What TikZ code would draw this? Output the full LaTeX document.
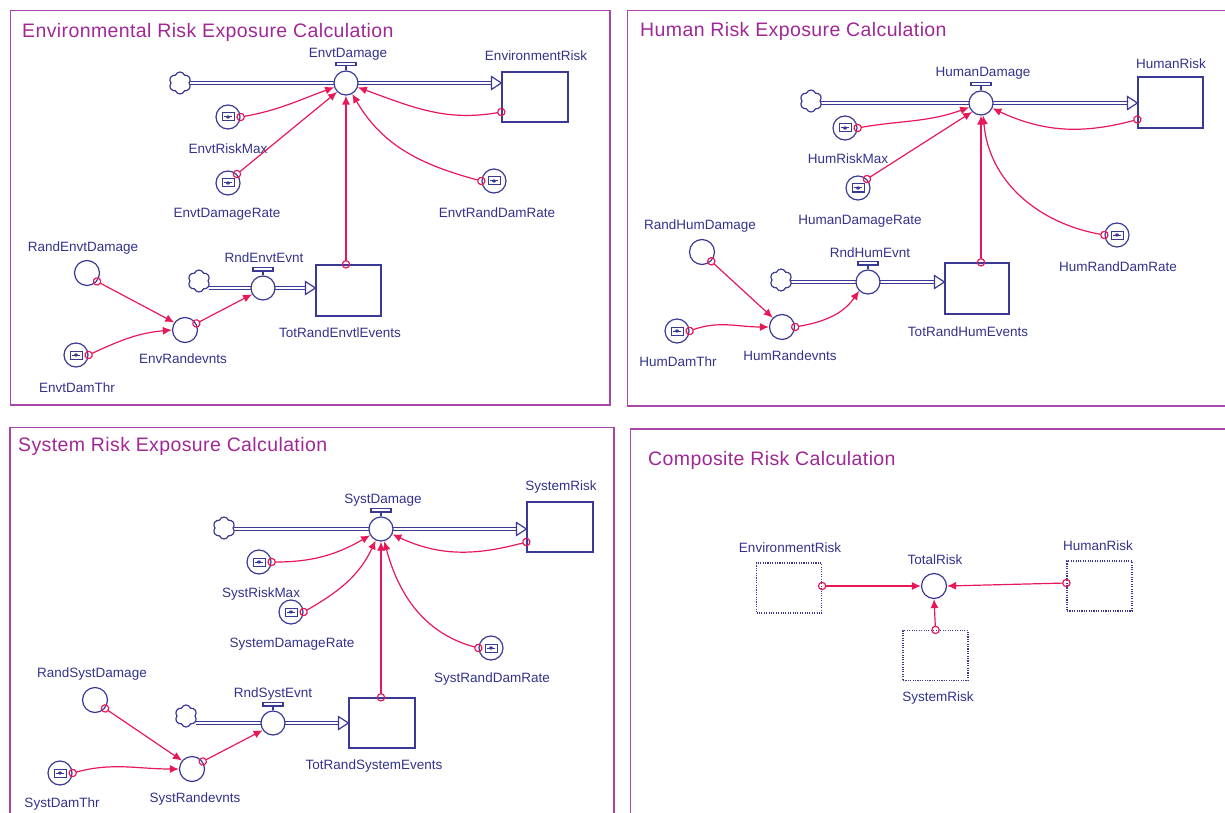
\documentclass[tikz,border=0pt]{standalone}
\usepackage{fontspec}
\setmainfont{Liberation Sans}
\newfontfamily\titlefont[LetterSpace=2]{Liberation Sans}
\usetikzlibrary{arrows.meta,shapes.symbols,backgrounds,calc}
\definecolor{navy}{RGB}{58,58,150}
\definecolor{txtc}{RGB}{50,50,140}
\definecolor{pinkc}{RGB}{232,24,88}
\definecolor{panelc}{RGB}{170,70,170}
\definecolor{titlec}{RGB}{160,40,150}
\tikzset{
  shp/.style={draw=navy, line width=1.2pt},
  panel/.style={draw=panelc, line width=1.4pt},
  ttl/.style={text=titlec, font=\titlefont\fontsize{19.5}{22}\selectfont, anchor=base west, inner sep=0},
  lbl/.style={text=txtc, font=\fontsize{13.5}{15}\selectfont, inner sep=0},
  aux/.style={circle, shp, fill=white, minimum size=25pt, inner sep=0},
  valvec/.style={circle, shp, fill=white, minimum size=24pt, inner sep=0},
  cvt/.style={circle, shp, fill=white, minimum size=24pt, inner sep=0},
  stock/.style={rectangle, shp, fill=white, minimum width=66pt, minimum height=50pt, inner sep=0},
  dbox/.style={rectangle, draw=navy, line width=1.1pt, dash pattern=on 1.1pt off 1.3pt, minimum width=65pt, minimum height=50pt, inner sep=0},
  cloudn/.style={cloud, cloud puffs=6, cloud puff arc=140, aspect=1, shp, fill=white, minimum width=22pt, minimum height=22pt, inner sep=0},
  pipe/.style={draw=navy, line width=1.1pt, double=white, double distance=2.4pt},
  conn/.style={draw=pinkc, line width=1.2pt, arrows={Circle[open,length=8.5pt,width=8.5pt,line width=1.2pt]-Latex[length=9pt,width=8pt]}, shorten <=-4.2pt},
}
\newcommand\mkvalve[3]{%
  \node[valvec] (#1) at (#2,-#3) {};
  \draw[shp] (#1.north) -- ++(0,4.5pt);
  \draw[shp,fill=white] ([xshift=-10pt,yshift=4.5pt]#1.north) rectangle ([xshift=10pt,yshift=8pt]#1.north);
}
\newcommand\mkconv[3]{%
  \node[cvt] (#1) at (#2,-#3) {};
  \draw[shp,line width=1pt] ([shift={(-6pt,-4pt)}]#1.center) rectangle ([shift={(6pt,4pt)}]#1.center);
  \draw[shp,line width=1pt] ([xshift=-4pt]#1.center) -- ([xshift=4pt]#1.center);
  \fill[navy] (#1.center) ellipse (2pt and 1.6pt);
}
\newcommand\mkflow[3]{%
  \coordinate (ftip) at (#3.west |- #2);
  \coordinate (fbeg) at (#1.east |- #2);
  \begin{pgfonlayer}{background}
    \draw[pipe] (fbeg) -- ([xshift=-9pt]ftip);
  \end{pgfonlayer}
  \draw[shp,fill=white] ([shift={(-10pt,6.5pt)}]ftip) -- (ftip) -- ([shift={(-10pt,-6.5pt)}]ftip) -- cycle;
}
\begin{document}
\begin{tikzpicture}[x=1pt,y=1pt]
\path[use as bounding box] (0,0) rectangle (1225,-813);
\clip (0,0) rectangle (1225,-813);
% panels
\draw[panel] (10.5,-10.5) rectangle (610,-405);
\draw[panel] (627.5,-10.5) rectangle (1232,-406);
\draw[panel] (10,-427.5) rectangle (614,-820);
\draw[panel] (630.5,-429) rectangle (1232,-820);
\node[ttl] (t1) at (22,-38) {Environmental Risk Exposure Calculation};
\node[ttl] (t2) at (640,-37) {Human Risk Exposure Calculation};
\node[ttl] (t3) at (18,-451) {System Risk Exposure Calculation};
\node[ttl] (t4) at (648,-465) {Composite Risk Calculation};

% ===== Panel 1 =====
\mkvalve{ED}{346}{83}
\node[stock] (ER) at (535,-97) {};
\node[cloudn] (c1) at (180,-83) {};
\mkconv{ERM}{228}{117}
\mkconv{EDR}{228}{183}
\mkconv{ERDR}{494}{181}
\node[aux] (RED) at (87,-273) {};
\mkconv{EDT}{76}{355}
\node[aux] (ERE) at (185,-330) {};
\mkvalve{REE}{263}{288}
\node[cloudn] (c2) at (199,-281) {};
\node[stock, minimum width=65pt, minimum height=51pt] (TRE) at (348.5,-290.5) {};
\mkflow{c1}{ED}{ER}
\mkflow{c2}{REE}{TRE}
\node[lbl] (lED) at (348,-54) {EnvtDamage};
\node[lbl] (lER) at (536,-56) {EnvironmentRisk};
\node[lbl] (lERM) at (228,-149) {EnvtRiskMax};
\node[lbl] (lEDR) at (227,-214) {EnvtDamageRate};
\node[lbl] (lERDR) at (497,-213) {EnvtRandDamRate};
\node[lbl] (lRED) at (83,-248) {RandEnvtDamage};
\node[lbl] (lEDT) at (77,-388) {EnvtDamThr};
\node[lbl] (lERE) at (183,-359) {EnvRandevnts};
\node[lbl] (lREE) at (264,-258) {RndEnvtEvnt};
\node[lbl] (lTRE) at (340,-333) {TotRandEnvtlEvents};
\draw[conn] (ERM.east) to[out=10,in=200] (ED.200);
\draw[conn] (EDR.45) -- (ED.225);
\draw[conn] (ERDR.west) to[out=165,in=-60] (ED.-60);
\draw[conn] ([yshift=-15pt]ER.west) to[out=190,in=-20] (ED.-20);
\draw[conn] (ED.south |- TRE.north) -- (ED.south);
\draw[conn] (RED.-40) -- (ERE.145);
\draw[conn] (EDT.east) to[out=25,in=185] (ERE.west);
\draw[conn] (ERE.30) -- (REE.210);

% ===== Panel 2 =====
\mkvalve{HD}{981}{103}
\node[stock, minimum width=65pt, minimum height=51pt] (HR) at (1170.5,-102.5) {};
\node[cloudn] (c3) at (811,-101) {};
\mkconv{HRM}{845}{128}
\mkconv{HDR}{858}{188}
\mkconv{HRDR}{1117}{235}
\node[aux] (RHD) at (702,-252) {};
\mkconv{HDT}{677}{331}
\node[aux] (HRE) at (782,-327) {};
\mkvalve{RHE}{868}{282}
\node[cloudn] (c4) at (781,-280) {};
\node[stock, minimum width=64pt, minimum height=51pt] (TRH) at (977,-288.5) {};
\mkflow{c3}{HD}{HR}
\mkflow{c4}{RHE}{TRH}
\node[lbl] (lHD) at (983,-73) {HumanDamage};
\node[lbl] (lHR) at (1171,-64) {HumanRisk};
\node[lbl] (lHRM) at (848,-159) {HumRiskMax};
\node[lbl] (lHDR) at (860,-221) {HumanDamageRate};
\node[lbl] (lHRDR) at (1118,-267) {HumRandDamRate};
\node[lbl] (lRHD) at (700,-226) {RandHumDamage};
\node[lbl] (lHDT) at (678,-362) {HumDamThr};
\node[lbl] (lHRE) at (790,-356) {HumRandevnts};
\node[lbl] (lRHE) at (870,-253) {RndHumEvnt};
\node[lbl] (lTRH) at (968,-332) {TotRandHumEvents};
\draw[conn] (HRM.east) to[out=10,in=200] (HD.200);
\draw[conn] (HDR.45) -- (HD.225);
\draw[conn] (HRDR.west) to[out=170,in=-85] (HD.-80);
\draw[conn] ([yshift=-17pt]HR.west) to[out=195,in=-25] (HD.-25);
\draw[conn] (HD.south |- TRH.north) -- (HD.south);
\draw[conn] (RHD.-45) -- (HRE.135);
\draw[conn] (HDT.east) to[out=20,in=180] (HRE.west);
\draw[conn] (HRE.east) to[out=10,in=235] (RHE.225);

% ===== Panel 3 =====
\mkvalve{SD}{381}{529}
\node[stock] (SR) at (560,-527) {};
\node[cloudn] (c5) at (224,-528) {};
\mkconv{SRM}{259}{562}
\mkconv{SDR}{291}{612}
\mkconv{SRDR}{491}{648}
\node[aux] (RSD) at (95,-700) {};
\mkconv{SDT}{60}{773}
\node[aux] (SRE) at (192,-769) {};
\mkvalve{RSE}{273}{723}
\node[cloudn] (c6) at (186,-716) {};
\node[stock] (TRS) at (382,-723) {};
\mkflow{c5}{SD}{SR}
\mkflow{c6}{RSE}{TRS}
\node[lbl] (lSD) at (383,-500) {SystDamage};
\node[lbl] (lSR) at (561,-487) {SystemRisk};
\node[lbl] (lSRM) at (261,-594) {SystRiskMax};
\node[lbl] (lSDR) at (292,-644) {SystemDamageRate};
\node[lbl] (lSRDR) at (492,-679) {SystRandDamRate};
\node[lbl] (lRSD) at (92,-674) {RandSystDamage};
\node[lbl] (lSDT) at (62,-804) {SystDamThr};
\node[lbl] (lSRE) at (195,-799) {SystRandevnts};
\node[lbl] (lRSE) at (273,-694) {RndSystEvnt};
\node[lbl] (lTRS) at (374,-766) {TotRandSystemEvents};
\draw[conn] (SRM.east) to[out=0,in=210] (SD.210);
\draw[conn] (SDR.east) to[out=30,in=245] (SD.245);
\draw[conn] (SRDR.west) to[out=165,in=-75] (SD.-75);
\draw[conn] ([yshift=-15pt]SR.west) to[out=195,in=-25] (SD.-25);
\draw[conn] (SD.south |- TRS.north) -- (SD.south);
\draw[conn] (RSD.-40) -- (SRE.140);
\draw[conn] (SDT.east) to[out=15,in=180] (SRE.west);
\draw[conn] (SRE.35) -- (RSE.215);

% ===== Panel 4 =====
\node[dbox] (E4) at (789,-588) {};
\node[aux] (TR) at (934,-586) {};
\node[dbox] (H4) at (1099.5,-586) {};
\node[dbox] (S4) at (935.5,-655.5) {};
\node[lbl] (lE4) at (790,-548) {EnvironmentRisk};
\node[lbl] (lTR) at (935,-560) {TotalRisk};
\node[lbl] (lH4) at (1098,-546) {HumanRisk};
\node[lbl] (lS4) at (938,-698) {SystemRisk};
\draw[conn] (E4.east |- TR) -- (TR.west);
\draw[conn] ([yshift=3pt]H4.west) -- (TR.east);
\draw[conn] (S4.north) -- (TR.south);
\end{tikzpicture}
\end{document}
